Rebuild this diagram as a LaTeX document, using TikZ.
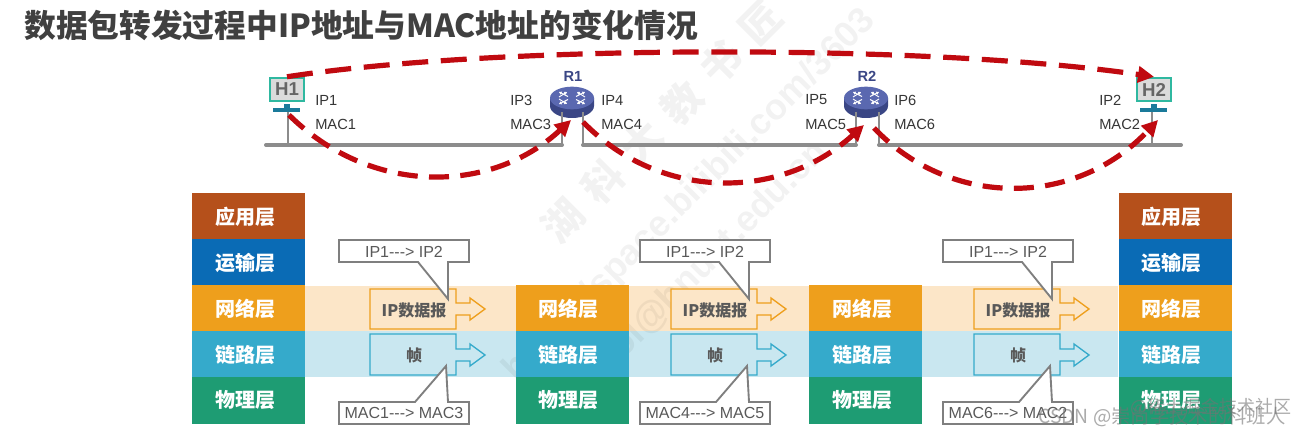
\documentclass[tikz,border=0pt]{standalone}
\usepackage{fontspec}
\usetikzlibrary{arrows.meta,shapes.geometric}
\setmainfont{Liberation Sans}
\newfontfamily\cjk{Noto Sans CJK SC}
\definecolor{appc}{HTML}{B5501B}
\definecolor{trac}{HTML}{0A6BB5}
\definecolor{netc}{HTML}{EE9F1C}
\definecolor{linc}{HTML}{35AACB}
\definecolor{phyc}{HTML}{1E9C73}
\definecolor{netband}{HTML}{FCE6C8}
\definecolor{linband}{HTML}{C9E7F0}
\definecolor{redd}{HTML}{C00A10}
\definecolor{teal1}{HTML}{2FB8A0}
\definecolor{stand}{HTML}{1A7A9A}
\definecolor{barc}{HTML}{8C8C8C}
\definecolor{calc}{HTML}{7F7F7F}
\definecolor{txt}{HTML}{404040}
\definecolor{rtop}{HTML}{5A68B0}
\definecolor{rbot}{HTML}{3A4685}
\tikzset{
  x=0.75pt,y=-0.75pt,
  layer/.style={minimum width=84.75pt,minimum height=34.7pt,inner sep=0pt,text=white,font=\cjk\bfseries\fontsize{15}{16}\selectfont,execute at end node={\hspace{5pt}}},
  addr/.style={anchor=west,inner sep=0pt,text=txt!85!black,font=\fontsize{11}{13}\selectfont},
  bar/.style={line width=3pt,draw=barc,line cap=round},
  drop/.style={line width=1pt,draw=barc},
  hop/.style={line width=3.9pt,draw=redd,dash pattern=on 15pt off 8.5pt,-{Triangle[length=12pt,width=12pt]}},
  longhop/.style={hop,dash pattern=on 19.5pt off 9.5pt},
  monitor/.style={draw=teal1,line width=1.6pt,fill=black!14,minimum width=25.5pt,minimum height=17.5pt,inner sep=0pt,text=black!60,font=\bfseries\fontsize{14}{14}\selectfont},
  callout/.style={draw=calc,line width=1.4pt,fill=white},
  calltext/.style={inner sep=0pt,text=black!65,font=\fontsize{12}{14}\selectfont},
  pkt/.style={line width=1pt},
  pkttext/.style={inner sep=0pt,text=black!65,font=\cjk\bfseries\fontsize{12}{13}\selectfont},
  rarrow/.style={draw=white,line width=0.7pt,-{Triangle[length=2pt,width=2.4pt]}},
  rname/.style={inner sep=0pt,text=rbot,font=\bfseries\fontsize{11}{11}\selectfont},
  mark text/.style={rotate=45,text=black,text opacity=0.05,inner sep=0pt},
  stamp/.style={anchor=west,inner sep=0pt,text=black!55,text opacity=0.6,font=\cjk\fontsize{14.5}{16}\selectfont},
}
\newcommand{\hostpc}[3]{% name, x, label
  \fill[stand] (#2-3,104) rectangle (#2+3,108);
  \fill[stand] (#2-14,108) rectangle (#2+13,112);
  \node[monitor] (#1) at (#2,89.5) {#3};
}
\newcommand{\routerdev}[3]{% name, x, label
  \fill[rbot] (#2-22,98) -- (#2-22,106) arc[start angle=180,end angle=360,x radius=22,y radius=-12] -- (#2+22,98) -- cycle;
  \node[ellipse,fill=rtop,minimum width=33pt,minimum height=17pt,inner sep=0pt] (#1) at (#2,98) {};
  \foreach \dx/\dy/\ex/\ey in {-4/-1.5/-13/-6, 4/-1.5/13/-6, -4/1.5/-13/6, 4/1.5/13/6}{
    \draw[rarrow] (#2+\dx,98+\dy) -- (#2+\ex,98+\ey);
  }
  \foreach \dx/\dy/\ex/\ey in {-13/-1/-5/-6, 13/-1/5/-6, -13/1/-5/6, 13/1/5/6}{
    \draw[rarrow] (#2+\dx,98+\dy) -- (#2+\ex,98+\ey);
  }
  \node[rname] (#1lab) at (#2+1,76) {#3};
}
\newcommand{\column}[2]{% name prefix, left x
  \node[layer,fill=netc] (#1net) at (#2+56.5,308.5) {网络层};
  \node[layer,fill=linc] (#1lin) at (#2+56.5,354.5) {链路层};
  \node[layer,fill=phyc] (#1phy) at (#2+56.5,400.5) {物理层};
}
\newcommand{\upper}[2]{%
  \node[layer,fill=appc] (#1app) at (#2+56.5,216.5) {应用层};
  \node[layer,fill=trac] (#1tra) at (#2+56.5,262.5) {运输层};
}
\newcommand{\hopset}[4]{% name prefix, offset, top text, bottom text
  \draw[pkt,draw=netc,fill=netband] (370+#2,289) -- (456+#2,289) -- (456+#2,303) -- (470+#2,303) -- (470+#2,298) -- (485+#2,309) -- (470+#2,320) -- (470+#2,315) -- (456+#2,315) -- (456+#2,329) -- (370+#2,329) -- cycle;
  \draw[pkt,draw=linc,fill=linband] (370+#2,334) -- (456+#2,334) -- (456+#2,349) -- (470+#2,349) -- (470+#2,344) -- (485+#2,355) -- (470+#2,366) -- (470+#2,361) -- (456+#2,361) -- (456+#2,375) -- (370+#2,375) -- cycle;
  \node[pkttext] (#1ip) at (414+#2,310) {IP数据报};
  \node[pkttext] (#1fr) at (414+#2,355) {帧};
  \draw[callout] (339+#2,240) -- (469+#2,240) -- (469+#2,262) -- (448+#2,262) -- (448+#2,299) -- (418+#2,262) -- (339+#2,262) -- cycle;
  \draw[callout] (339+#2,402) -- (415+#2,402) -- (446+#2,366) -- (448+#2,402) -- (469+#2,402) -- (469+#2,424) -- (339+#2,424) -- cycle;
  \node[calltext] (#1top) at (404+#2,251.5) {#3};
  \node[calltext] (#1bot) at (404+#2,413) {#4};
}
\newcommand{\arw}{{-}{-}{-}>}
\begin{document}
\begin{tikzpicture}
\useasboundingbox (0,0) rectangle (1306,434);
\fill[white] (0,0) rectangle (1306,434);
% bands
\fill[netband] (305,286) rectangle (1118,331.5);
\fill[linband] (305,331.5) rectangle (1118,377);
% faint diagonal watermark
\node[mark text,font=\cjk\bfseries\fontsize{30}{32}\selectfont] (wm1) at (662,122) {湖\hspace{12pt}科\hspace{12pt}大\hspace{12pt}教\hspace{12pt}书\hspace{12pt}匠};
\node[mark text,font=\bfseries\fontsize{27}{30}\selectfont] (wm2) at (690,196) {https://space.bilibili.com/3603};
\node[mark text,font=\bfseries\fontsize{27}{30}\selectfont] (wm3) at (705,265) {gaol@hnust.edu.cn};
% columns
\upper{a}{192}\column{a}{192}
\column{b}{515.5}
\column{c}{809}
\upper{d}{1118.5}\column{d}{1118.5}
% packets
\hopset{p}{0}{IP1\arw{} IP2}{MAC1\arw{} MAC3}
\hopset{q}{301}{IP1\arw{} IP2}{MAC4\arw{} MAC5}
\hopset{s}{604}{IP1\arw{} IP2}{MAC6\arw{} MAC2}
% title
\node[anchor=west,inner sep=0pt,text=txt,font=\cjk\bfseries\fontsize{23.8}{28}\selectfont] (title) at (24,25) {数据包转发过程中IP地址与MAC地址的变化情况};
% network
\coordinate (n1l) at (266,145); \coordinate (n1r) at (562,145);
\coordinate (n2l) at (583,145); \coordinate (n2r) at (856,145);
\coordinate (n3l) at (879,145); \coordinate (n3r) at (1181,145);
\draw[bar] (n1l) -- (n1r);
\draw[bar] (n2l) -- (n2r);
\draw[bar] (n3l) -- (n3r);
\hostpc{H1}{287}{H1}
\hostpc{H2}{1154}{H2}
\routerdev{R1}{572}{R1}
\routerdev{R2}{866}{R2}
\coordinate (d1) at (288,145); \coordinate (d2) at (1152,145);
\draw[drop] (288,112) -- (d1);
\draw[drop] (1152,112) -- (d2);
\draw[drop] (562,112) -- (n1r);
\draw[drop] (583,112) -- (n2l);
\draw[drop] (856,112) -- (n2r);
\draw[drop] (879,112) -- (n3l);
\node[addr] (a1) at (315,100) {IP1};
\node[addr] (a2) at (315,124) {MAC1};
\node[addr] (a3) at (510,100) {IP3};
\node[addr] (a4) at (510,124) {MAC3};
\node[addr] (a5) at (601,100) {IP4};
\node[addr] (a6) at (601,124) {MAC4};
\node[addr] (a7) at (805,100) {IP5};
\node[addr] (a8) at (805,124) {MAC5};
\node[addr] (a9) at (894,100) {IP6};
\node[addr] (a10) at (894,124) {MAC6};
\node[addr] (a11) at (1099,100) {IP2};
\node[addr] (a12) at (1099,124) {MAC2};
% hops
\coordinate (h1b) at (289,115);
\coordinate (r1i) at (571,120);
\coordinate (r1o) at (583,122);
\coordinate (r2i) at (864,125);
\coordinate (r2o) at (874,128);
\coordinate (h2b) at (1158,120);
\draw[longhop] (H1.north) .. controls (500,44) and (930,44) .. (H2.north);
\draw[hop] (h1b) .. controls (370,195) and (490,195) .. (r1i);
\draw[hop] (r1o) .. controls (660,201) and (780,201) .. (r2i);
\draw[hop] (r2o) .. controls (950,208) and (1075,208) .. (h2b);
% corner stamps
\node[stamp,font=\cjk\fontsize{13.5}{15}\selectfont] (st1) at (1130,407) {@稀土掘金技术社区};
\node[stamp] (st2) at (1038,417) {CSDN @崇尚学技术的科班人};
\end{tikzpicture}
\end{document}
